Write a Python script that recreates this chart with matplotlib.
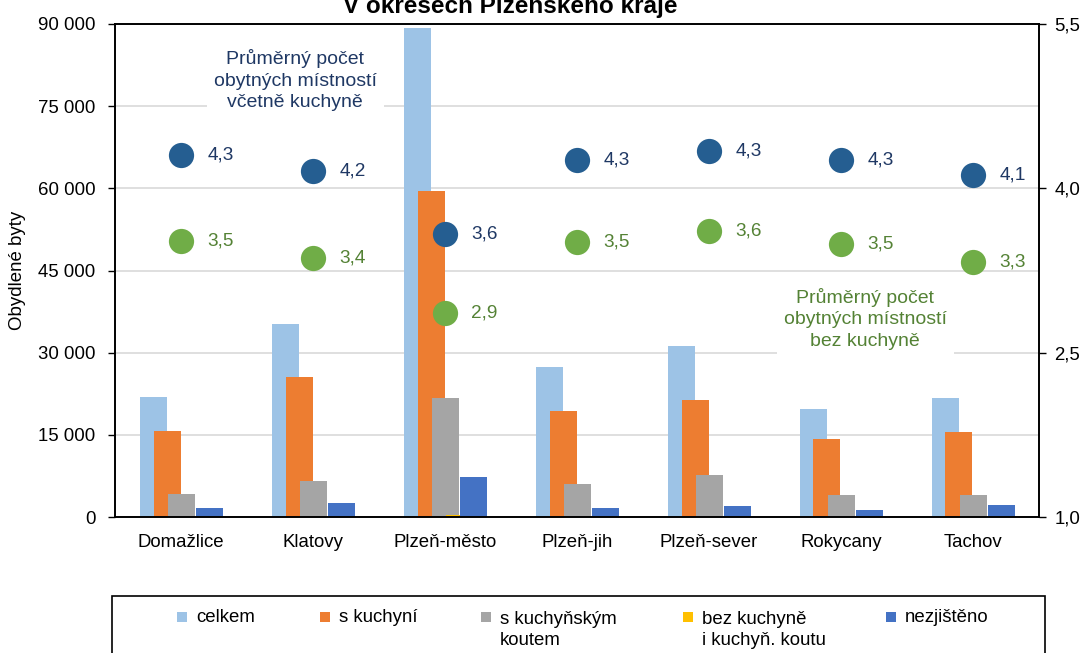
import numpy as np
import matplotlib
matplotlib.use('Agg')
from matplotlib import pyplot as plt
from matplotlib.patches import Rectangle
from matplotlib.ticker import FuncFormatter

plt.rcParams['font.family'] = ['Liberation Sans', 'DejaVu Sans']
FS = 13.4

districts = ['Domažlice', 'Klatovy', 'Plzeň-město', 'Plzeň-jih', 'Plzeň-sever', 'Rokycany', 'Tachov']

# obydlene byty
celkem = [21900, 35200, 89300, 27400, 31200, 19700, 21700]
s_kuchyni = [15700, 25600, 59500, 19300, 21400, 14200, 15500]
s_koutem = [4200, 6600, 21700, 6000, 7700, 4000, 4000]
bez_kuchyne = [60, 90, 400, 70, 90, 40, 50]
nezjisteno = [1650, 2550, 7300, 1650, 2000, 1300, 2200]

# prumerny pocet obytnych mistnosti
vcetne_kuchyne = [4.30, 4.16, 3.58, 4.26, 4.34, 4.26, 4.12]
bez_kuchyne_avg = [3.52, 3.36, 2.86, 3.51, 3.61, 3.49, 3.33]

series = [celkem, s_kuchyni, s_koutem, bez_kuchyne, nezjisteno]
names = ['celkem', 's kuchyní', 's kuchyňským\nkoutem', 'bez kuchyně\ni kuchyň. koutu', 'nezjištěno']
colors = ['#9DC3E6', '#ED7D31', '#A5A5A5', '#FFC000', '#4472C4']

W, H = 1083, 653
fig = plt.figure(figsize=(W / 100, H / 100), dpi=100)
ax = fig.add_axes([115 / W, 1 - 517 / H, (1039 - 115) / W, (517 - 24) / H])

x = np.arange(len(districts))
step = 14 / 132
width = 27 / 132
for i, (vals, c) in enumerate(zip(series, colors)):
    ax.bar(x + (i - 2) * step, vals, width, color=c, zorder=2)

ax.set_xlim(-0.5, len(districts) - 0.5)
ax.set_ylim(0, 90000)
ax.set_yticks(np.arange(0, 90001, 15000))
ax.yaxis.set_major_formatter(FuncFormatter(lambda v, p: f'{int(v):,}'.replace(',', ' ')))
ax.set_xticks(x)
ax.set_xticklabels(districts, fontsize=FS)
ax.tick_params(axis='x', length=0, pad=12)
ax.tick_params(axis='y', length=5, width=1, pad=9, labelsize=FS)
ax.yaxis.grid(True, color='#D9D9D9', linewidth=1.2, zorder=0)
ax.set_axisbelow(True)
for s in ax.spines.values():
    s.set_linewidth(1.2)
ax.set_ylabel('Obydlené byty', fontsize=FS)
ax.yaxis.set_label_coords(-(115 - 26) / (1039 - 115), 0.5)

ax2 = ax.twinx()
ax2.set_ylim(1.0, 5.5)
ax2.set_yticks([1.0, 2.5, 4.0, 5.5])
ax2.yaxis.set_major_formatter(FuncFormatter(lambda v, p: f'{v:.1f}'.replace('.', ',')))
ax2.tick_params(axis='y', length=5, width=1, pad=6, labelsize=FS)
for s in ax2.spines.values():
    s.set_linewidth(1.2)

ax2.scatter(x, vcetne_kuchyne, s=330, color='#255E91', zorder=5, linewidths=0)
ax2.scatter(x, bez_kuchyne_avg, s=330, color='#70AD47', zorder=5, linewidths=0)
for xi, v in zip(x, vcetne_kuchyne):
    ax2.annotate(f'{v:.1f}'.replace('.', ','), (xi, v), xytext=(19, 0), textcoords='offset points',
                 va='center', ha='left', fontsize=FS + 0.3, color='#1F3864')
for xi, v in zip(x, bez_kuchyne_avg):
    ax2.annotate(f'{v:.1f}'.replace('.', ','), (xi, v), xytext=(19, 0), textcoords='offset points',
                 va='center', ha='left', fontsize=FS + 0.3, color='#548235')

ax.text(295 / W, 1 - 80 / H, 'Průměrný počet\nobytných místností\nvčetně kuchyně', transform=fig.transFigure,
        ha='center', va='center', fontsize=14, color='#1F3864', linespacing=1.33,
        bbox=dict(facecolor='white', edgecolor='none', pad=5), zorder=1)
ax.text(865 / W, 1 - 319 / H, 'Průměrný počet\nobytných místností\nbez kuchyně', transform=fig.transFigure,
        ha='center', va='center', fontsize=14, color='#548235', linespacing=1.33,
        bbox=dict(facecolor='white', edgecolor='none', pad=5), zorder=1)

fig.text(510 / W, 1 - 13 / H, 'V okresech Plzeňského kraje', ha='center', va='baseline',
         fontsize=17.5, fontweight='bold')

# legend
fig.patches.append(Rectangle((112 / W, -0.05), (1045 - 112) / W, 0.05 + 1 - 596 / H,
                             transform=fig.transFigure, facecolor='white', edgecolor='black', linewidth=1.2))
marker_x = [177, 320, 481, 683, 886]
for mx, c, name in zip(marker_x, colors, names):
    fig.patches.append(Rectangle((mx / W, 1 - 622 / H), 10 / W, 10 / H, transform=fig.transFigure,
                                 facecolor=c, edgecolor='none'))
    nl = name.count('\n')
    fig.text((mx + 19) / W, 1 - (622 + 23 * nl) / H, name, ha='left', va='baseline',
             fontsize=FS, linespacing=1.33)

fig.savefig('out.png', dpi=100)
plt.close(fig)
